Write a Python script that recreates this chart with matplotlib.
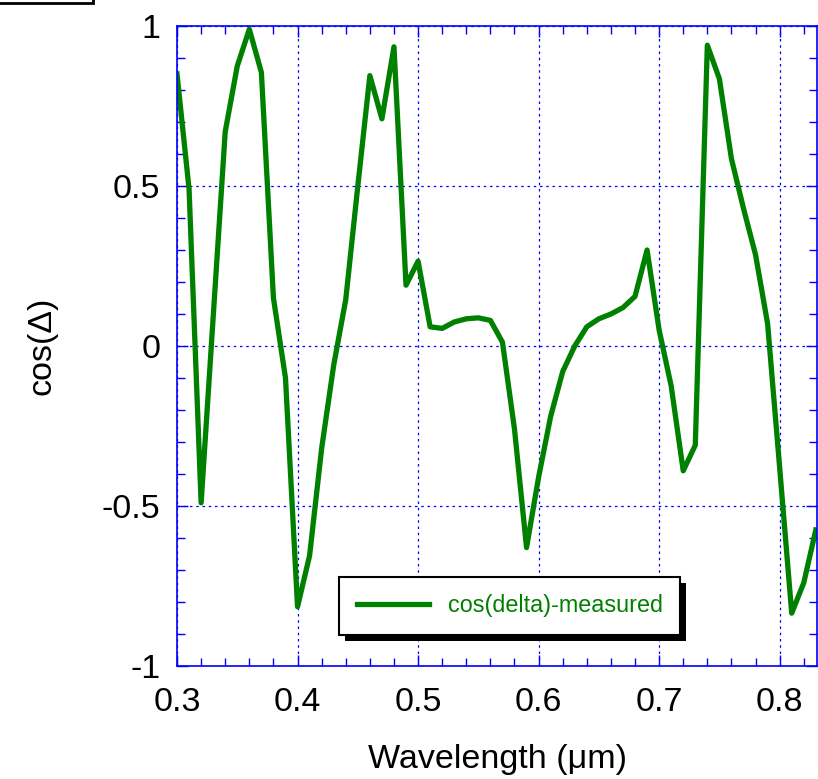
import numpy as np
import matplotlib.pyplot as plt
from matplotlib.patches import Rectangle
from matplotlib.ticker import MultipleLocator

plt.rcParams['font.family'] = ['Liberation Sans', 'DejaVu Sans']

wavelength = [0.30, 0.31, 0.32, 0.33, 0.34, 0.35, 0.36, 0.37, 0.38, 0.39,
              0.40, 0.41, 0.42, 0.43, 0.44, 0.45, 0.46, 0.47, 0.48, 0.49,
              0.50, 0.51, 0.52, 0.53, 0.54, 0.55, 0.56, 0.57, 0.58, 0.59,
              0.60, 0.61, 0.62, 0.63, 0.64, 0.65, 0.66, 0.67, 0.68, 0.69,
              0.70, 0.71, 0.72, 0.73, 0.74, 0.75, 0.76, 0.77, 0.78, 0.79,
              0.80, 0.81, 0.82, 0.83]
cos_delta = [0.85, 0.49, -0.49, 0.09, 0.67, 0.875, 0.99, 0.855, 0.15, -0.10,
             -0.815, -0.655, -0.32, -0.06, 0.145, 0.50, 0.845, 0.71, 0.935, 0.19,
             0.265, 0.06, 0.055, 0.075, 0.085, 0.088, 0.08, 0.012, -0.26, -0.63,
             -0.41, -0.22, -0.08, 0.0, 0.06, 0.085, 0.10, 0.12, 0.155, 0.30,
             0.05, -0.125, -0.39, -0.31, 0.94, 0.835, 0.585, 0.43, 0.285, 0.07,
             -0.38, -0.835, -0.74, -0.575]

fig = plt.figure(figsize=(8.18, 7.79), dpi=100)
ax = fig.add_axes([0.2164, 0.1451, 0.7824, 0.8215])

ax.plot(wavelength, cos_delta, color='#008000', linewidth=3.8, label='cos(delta)-measured')

ax.set_xlim(0.3, 0.831)
ax.set_ylim(-1, 1)
ax.xaxis.set_major_locator(MultipleLocator(0.1))
ax.xaxis.set_minor_locator(MultipleLocator(0.02))
ax.yaxis.set_major_locator(MultipleLocator(0.5))
ax.yaxis.set_minor_locator(MultipleLocator(0.1))
ax.set_yticks([-1, -0.5, 0, 0.5, 1])
ax.set_yticklabels(['-1', '-0.5', '0', '0.5', '1'])

ax.grid(True, which='major', color='blue', linestyle=(0, (2, 3)), linewidth=0.9)
for s in ax.spines.values():
    s.set_color('blue')
    s.set_linewidth(1.2)
ax.tick_params(which='both', direction='in', top=True, right=True, color='blue',
               labelsize=24.5)
ax.tick_params(axis='x', pad=15)
ax.tick_params(axis='y', pad=12)
ax.tick_params(which='major', length=8, width=1)
ax.tick_params(which='minor', length=6, width=1)

ax.set_xlabel('Wavelength (\u03bcm)', fontsize=24.5, labelpad=19)
ax.set_ylabel('cos(\u0394)', fontsize=24.5, labelpad=32)

leg = ax.legend(loc='center', bbox_to_anchor=(0.52, 0.094), fontsize=16.8,
                handlelength=3.1, fancybox=False, edgecolor='black', framealpha=1,
                borderpad=0.75, borderaxespad=0)
leg.get_frame().set_linewidth(1.5)
for t in leg.get_texts():
    t.set_color('#008000')

# black drop shadow behind the legend box
fig.canvas.draw()
bb = leg.get_window_extent().transformed(fig.transFigure.inverted())
dx, dy = 6 / 818, 6 / 779
ax.add_artist(Rectangle((bb.x0 + dx, bb.y0 - dy), bb.width, bb.height,
                        transform=fig.transFigure, facecolor='black',
                        edgecolor='none', zorder=leg.get_zorder() - 0.1))

# cut-off box at the top left corner
fig.add_artist(Rectangle((-0.01, 1 - 3 / 779), 93 / 818 + 0.01, 0.05,
                         transform=fig.transFigure, facecolor='white',
                         edgecolor='black', linewidth=2, clip_on=False))

fig.savefig('out.png', dpi=100)
